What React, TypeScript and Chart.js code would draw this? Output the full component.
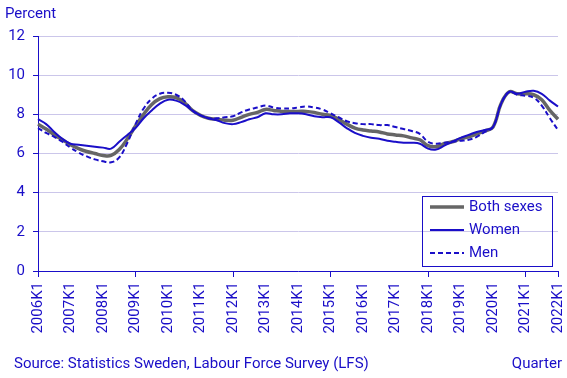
import React, { useEffect, useRef } from "react";
import { Chart, registerables } from "chart.js";

Chart.register(...registerables);

const years = ["2006","2007","2008","2009","2010","2011","2012","2013","2014","2015","2016","2017","2018","2019","2020","2021","2022"];
const quarters: string[] = [];
years.forEach((y) => {
  for (let q = 1; q <= 4; q++) {
    if (y === "2022" && q > 1) break;
    quarters.push(`${y}K${q}`);
  }
});

const bothSexes = [
  7.5, 7.25, 6.95, 6.7, 6.45, 6.25, 6.1, 6.0, 5.9, 5.9, 6.2, 6.75,
  7.4, 8.0, 8.5, 8.8, 8.9, 8.85, 8.6, 8.2, 7.95, 7.8, 7.75, 7.7,
  7.7, 7.85, 8.0, 8.1, 8.25, 8.2, 8.15, 8.15, 8.15, 8.15, 8.1, 8.0,
  7.95, 7.75, 7.5, 7.3, 7.2, 7.15, 7.1, 7.0, 6.95, 6.9, 6.8, 6.7,
  6.4, 6.35, 6.5, 6.6, 6.75, 6.85, 7.0, 7.15, 7.35, 8.55, 9.15, 9.05,
  9.05, 9.0, 8.75, 8.2, 7.75,
];
const women = [
  7.75, 7.5, 7.1, 6.75, 6.5, 6.45, 6.4, 6.35, 6.3, 6.25, 6.6, 6.95,
  7.3, 7.8, 8.2, 8.55, 8.75, 8.7, 8.5, 8.2, 7.95, 7.8, 7.7, 7.55,
  7.5, 7.6, 7.75, 7.85, 8.05, 8.0, 8.0, 8.05, 8.05, 8.0, 7.9, 7.85,
  7.85, 7.6, 7.3, 7.05, 6.9, 6.8, 6.75, 6.65, 6.6, 6.55, 6.55, 6.5,
  6.25, 6.2, 6.4, 6.6, 6.8, 6.95, 7.1, 7.2, 7.35, 8.55, 9.15, 9.05,
  9.15, 9.2, 9.05, 8.7, 8.4,
];
const men = [
  7.3, 7.05, 6.85, 6.6, 6.3, 6.05, 5.85, 5.7, 5.6, 5.55, 5.8, 6.55,
  7.5, 8.3, 8.8, 9.05, 9.1, 9.0, 8.7, 8.2, 7.95, 7.8, 7.8, 7.85,
  7.9, 8.1, 8.25, 8.35, 8.45, 8.35, 8.3, 8.3, 8.35, 8.4, 8.35, 8.25,
  8.05, 7.85, 7.65, 7.55, 7.5, 7.5, 7.45, 7.45, 7.35, 7.25, 7.15, 7.0,
  6.6, 6.5, 6.55, 6.6, 6.65, 6.7, 6.85, 7.1, 7.35, 8.55, 9.15, 9.0,
  8.95, 8.85, 8.45, 7.8, 7.2,
];

const yTicks = [0, 2, 4, 6, 8, 10, 12];

const BLUE = "#1a0ec8";
const GRID = "#cbc6ea";
const GRAY = "#666666";
const FONT = "Roboto, 'Liberation Sans', sans-serif";

export default function App() {
  const ref = useRef<HTMLCanvasElement | null>(null);

  useEffect(() => {
    if (!ref.current) return;
    const decor = {
      id: "decor",
      afterDraw(chart: any) {
        const ctx = chart.ctx;
        ctx.save();
        ctx.fillStyle = BLUE;
        ctx.font = `15px ${FONT}`;
        ctx.textBaseline = "middle";
        ctx.textAlign = "left";
        ctx.fillText("Percent", 5, 14);
        ctx.fillText("Source: Statistics Sweden, Labour Force Survey (LFS)", 14, 364);
        ctx.textAlign = "right";
        ctx.fillText("Quarter", 562, 364);

        // legend
        const bx = 422.5, by = 196.5, bw = 130, bh = 70;
        ctx.strokeStyle = BLUE;
        ctx.lineWidth = 1;
        ctx.strokeRect(bx, by, bw, bh);
        const items = [
          { label: "Both sexes", color: GRAY, width: 3.5, dash: [] as number[] },
          { label: "Women", color: BLUE, width: 2, dash: [] as number[] },
          { label: "Men", color: BLUE, width: 2, dash: [5, 3] },
        ];
        items.forEach((it, i) => {
          const cy = 207 + i * 23;
          ctx.beginPath();
          ctx.setLineDash(it.dash);
          ctx.strokeStyle = it.color;
          ctx.lineWidth = it.width;
          ctx.moveTo(430, cy);
          ctx.lineTo(464, cy);
          ctx.stroke();
          ctx.setLineDash([]);
          ctx.fillStyle = BLUE;
          ctx.textAlign = "left";
          ctx.fillText(it.label, 469, cy);
        });
        ctx.restore();
      },
    };

    const chart = new Chart(ref.current, {
      type: "line",
      data: {
        labels: quarters,
        datasets: [
          {
            label: "Men",
            data: men,
            borderColor: BLUE,
            borderWidth: 2,
            borderDash: [5, 3],
            pointRadius: 0,
            tension: 0.4,
            fill: false,
          },
          {
            label: "Women",
            data: women,
            borderColor: BLUE,
            borderWidth: 2,
            pointRadius: 0,
            tension: 0.4,
            fill: false,
          },
          {
            label: "Both sexes",
            data: bothSexes,
            borderColor: GRAY,
            borderWidth: 3.5,
            pointRadius: 0,
            tension: 0.4,
            fill: false,
          },
        ],
      },
      options: {
        animation: false,
        responsive: false,
        maintainAspectRatio: false,
        layout: { padding: { left: 0, right: 9, top: 36, bottom: 0 } },
        plugins: {
          legend: { display: false },
          tooltip: { enabled: false },
          title: { display: false },
        },
        scales: {
          x: {
            type: "category",
            grid: {
              drawOnChartArea: false,
              tickLength: 6,
              tickColor: (c: any) => (c.index % 12 === 0 || c.index === quarters.length - 1 ? BLUE : "rgba(0,0,0,0)"),
            },
            border: { color: BLUE, width: 1 },
            ticks: {
              autoSkip: false,
              maxRotation: 90,
              minRotation: 90,
              color: BLUE,
              padding: 5,
              font: { family: FONT, size: 15 },
              callback: (_v: any, i: number) => (i % 4 === 0 ? quarters[i] : ""),
            },
            afterFit: (s: any) => {
              s.height = 107;
              s.paddingLeft = 0;
              s.paddingRight = 0;
            },
          },
          y: {
            min: 0,
            max: 12,
            afterBuildTicks: (s: any) => {
              s.ticks = yTicks.map((v) => ({ value: v }));
            },
            grid: {
              color: GRID,
              lineWidth: 1,
              tickColor: BLUE,
              tickLength: 5,
            },
            border: { color: BLUE, width: 1 },
            ticks: {
              color: BLUE,
              padding: 8,
              font: { family: FONT, size: 15 },
            },
            afterFit: (s: any) => {
              s.width = 38;
              s.paddingTop = 0;
              s.paddingBottom = 0;
            },
          },
        },
      },
      plugins: [decor],
    });
    return () => chart.destroy();
  }, []);

  return (
    <div style={{ position: "fixed", left: 0, top: 0, width: 567, height: 378, background: "#fff" }}>
      <canvas ref={ref} width={567} height={378} style={{ width: 567, height: 378 }} />
    </div>
  );
}
